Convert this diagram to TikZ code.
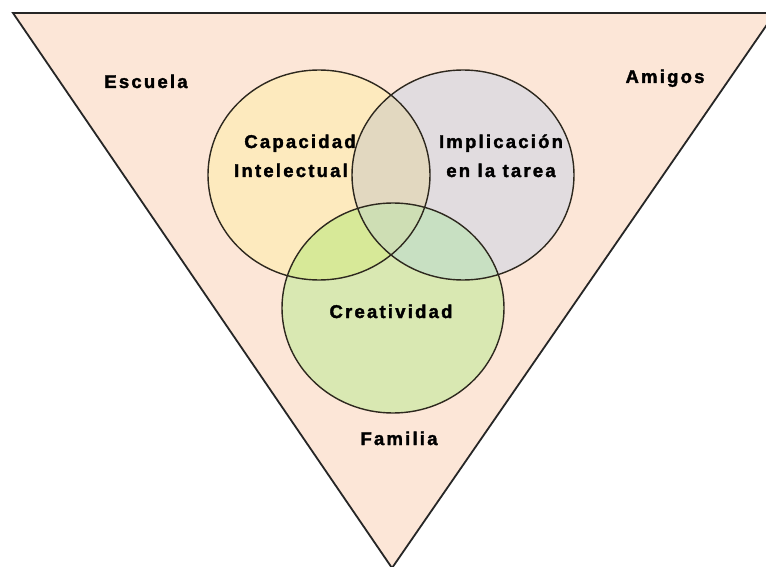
\documentclass[tikz,border=0pt]{standalone}
\usepackage{fontspec}
\newfontfamily\vennfont[LetterSpace=12,UprightFont={* Bold},FakeBold=1.8]{Liberation Sans}
\usepackage{tikz}
\definecolor{peach}{RGB}{252,230,215}
\definecolor{capfill}{RGB}{253,234,190}
\definecolor{impfill}{RGB}{225,220,223}
\definecolor{crefill}{RGB}{217,232,178}
\definecolor{capimp}{RGB}{226,216,192}
\definecolor{capcre}{RGB}{215,233,152}
\definecolor{impcre}{RGB}{200,224,194}
\definecolor{allfill}{RGB}{206,222,180}
\definecolor{rimcol}{RGB}{45,40,30}

\begin{document}
\begin{tikzpicture}[x=1pt,y=-1pt,
	lbl/.style={inner sep=0pt,anchor=base,font=\vennfont\fontsize{18.5}{18.5}\selectfont},
	rim/.style={draw=rimcol,line width=1.4pt}]
	\clip (0,0) rectangle (766,567);
	\fill[white] (0,0) rectangle (766,567);
	\filldraw[fill=peach,draw=black!85,line width=1.8pt,line join=miter] (13,13) -- (775,13) -- (392,568) -- cycle;
	\fill[capfill] (319,175) ellipse (111 and 105);
	\fill[impfill] (463,175) ellipse (111 and 105);
	\fill[crefill] (393,308) ellipse (111 and 105);
	\begin{scope}
		\clip (319,175) ellipse (111 and 105);
		\fill[capimp] (463,175) ellipse (111 and 105);
		\fill[capcre] (393,308) ellipse (111 and 105);
	\end{scope}
	\begin{scope}
		\clip (463,175) ellipse (111 and 105);
		\fill[impcre] (393,308) ellipse (111 and 105);
	\end{scope}
	\begin{scope}
		\clip (319,175) ellipse (111 and 105);
		\clip (463,175) ellipse (111 and 105);
		\fill[allfill] (393,308) ellipse (111 and 105);
	\end{scope}
	\draw[rim] (319,175) ellipse (111 and 105);
	\draw[rim] (463,175) ellipse (111 and 105);
	\draw[rim] (393,308) ellipse (111 and 105);
	\node[lbl] (escuela) at (146,88) {Escuela};
	\node[lbl] (amigos) at (665,83) {Amigos};
	\node[lbl] (familia) at (399,445) {Familia};
	\node[lbl] (creatividad) at (391,318) {Creatividad};
	\node[lbl] (capacidad) at (300,148) {Capacidad};
	\node[lbl] (intelectual) at (291,177) {Intelectual};
	\node[lbl] (implicacion) at (501,148) {Implicación};
	\node[lbl] (tarea) at (501,177) {en la tarea};
\end{tikzpicture}
\end{document}
